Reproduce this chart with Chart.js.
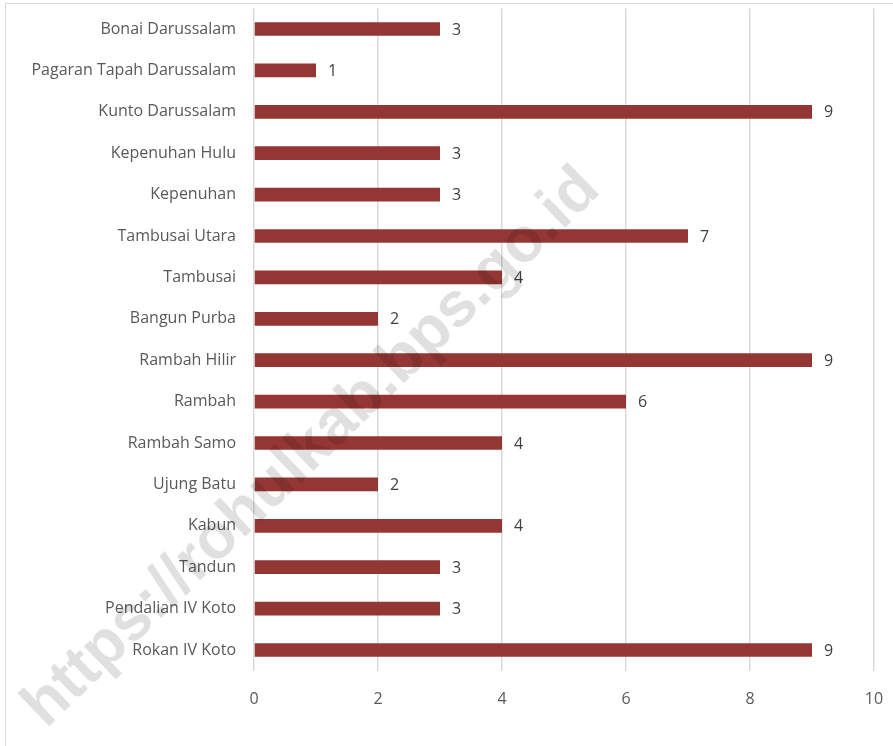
<!DOCTYPE html>
<html>
<head>
<meta charset="utf-8">
<script src="https://cdn.jsdelivr.net/npm/chart.js@4.4.1/dist/chart.umd.min.js"></script>
<style>
  html, body { margin: 0; padding: 0; background: #ffffff; }
  #wrap { width: 893px; height: 746px; position: relative; }
</style>
</head>
<body>
<div id="wrap"><canvas id="c" width="893" height="746"></canvas></div>
<script>
const categories = [
  "Bonai Darussalam",
  "Pagaran Tapah Darussalam",
  "Kunto Darussalam",
  "Kepenuhan Hulu",
  "Kepenuhan",
  "Tambusai Utara",
  "Tambusai",
  "Bangun Purba",
  "Rambah Hilir",
  "Rambah",
  "Rambah Samo",
  "Ujung Batu",
  "Kabun",
  "Tandun",
  "Pendalian IV Koto",
  "Rokan IV Koto"
];
const values = [3, 1, 9, 3, 3, 7, 4, 2, 9, 6, 4, 2, 4, 3, 3, 9];
const xMin = 0;
const xMax = 10;
const xStep = 2;
const watermarkText = "https://rohulkab.bps.go.id";

const FONT = "'Open Sans', 'Noto Sans', sans-serif";
const FSIZE = 16;

const framePlugin = {
  id: 'frame',
  beforeDraw(chart) {
    const ctx = chart.ctx;
    ctx.save();
    ctx.fillStyle = '#ffffff';
    ctx.fillRect(0, 0, chart.width, chart.height);
    ctx.strokeStyle = '#d9d9d9';
    ctx.lineWidth = 1;
    ctx.strokeRect(5.5, 3.5, chart.width + 20, chart.height + 20);
    ctx.restore();
  }
};

const labelPlugin = {
  id: 'valueLabels',
  afterDatasetsDraw(chart) {
    const ctx = chart.ctx;
    const meta = chart.getDatasetMeta(0);
    ctx.save();
    ctx.font = FSIZE + "px " + FONT;
    ctx.fillStyle = '#404040';
    ctx.textAlign = 'left';
    ctx.textBaseline = 'middle';
    meta.data.forEach((bar, i) => {
      ctx.fillText(String(values[i]), bar.x + 12, bar.y + 1);
    });
    ctx.restore();
  }
};

const watermarkPlugin = {
  id: 'watermark',
  afterDraw(chart) {
    const ctx = chart.ctx;
    ctx.save();
    ctx.translate(312, 448);
    ctx.rotate(-44 * Math.PI / 180);
    ctx.font = "bold 63px 'Liberation Sans', Arial, sans-serif";
    ctx.fillStyle = 'rgba(0,0,0,0.12)';
    ctx.textAlign = 'center';
    ctx.textBaseline = 'middle';
    ctx.fillText(watermarkText, 0, 0);
    ctx.restore();
  }
};

new Chart(document.getElementById('c'), {
  type: 'bar',
  data: {
    labels: categories,
    datasets: [{
      data: values,
      backgroundColor: '#943634',
      borderWidth: 0,
      categoryPercentage: 1.0,
      barPercentage: 0.33
    }]
  },
  options: {
    indexAxis: 'y',
    responsive: false,
    animation: false,
    devicePixelRatio: 1,
    layout: { padding: { top: 8.3, right: 19, bottom: 0, left: 0 } },
    plugins: {
      legend: { display: false },
      tooltip: { enabled: false },
      title: { display: false }
    },
    scales: {
      x: {
        min: xMin,
        max: xMax,
        ticks: {
          stepSize: xStep,
          color: '#595959',
          font: { size: FSIZE, family: FONT },
          padding: 19
        },
        grid: {
          color: '#d9d9d9',
          lineWidth: 1.5,
          drawTicks: false
        },
        border: { display: false },
        afterFit(scale) {
          scale.height = 75.3;
          scale.paddingLeft = 0; scale.paddingRight = 0;
          scale.paddingTop = 0; scale.paddingBottom = 0;
        }
      },
      y: {
        ticks: {
          color: '#595959',
          font: { size: FSIZE, family: FONT },
          padding: 18
        },
        grid: { display: false, drawTicks: false },
        border: { display: false },
        afterFit(scale) {
          scale.width = 254;
          scale.paddingLeft = 0; scale.paddingRight = 0;
          scale.paddingTop = 0; scale.paddingBottom = 0;
        }
      }
    }
  },
  plugins: [framePlugin, labelPlugin, watermarkPlugin]
});
</script>
</body>
</html>
